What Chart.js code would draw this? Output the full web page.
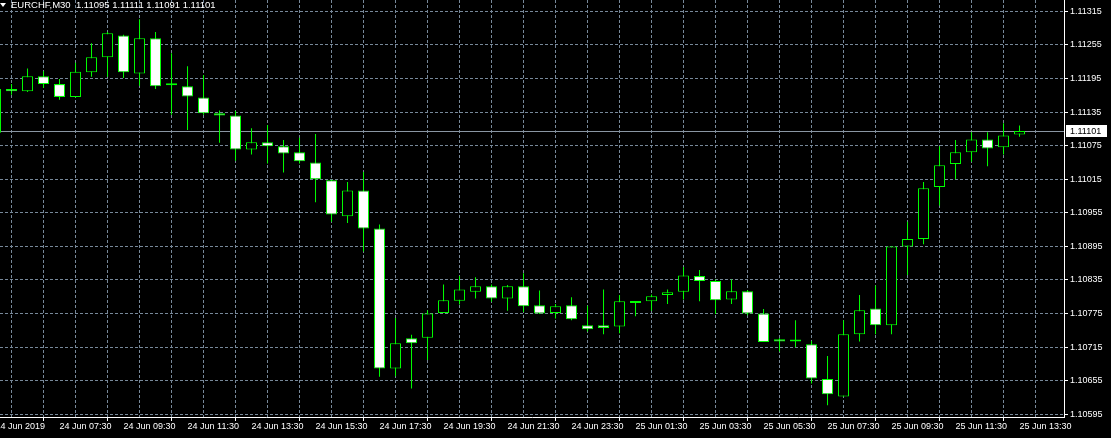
<!DOCTYPE html>
<html><head><meta charset="utf-8">
<script src="https://cdn.jsdelivr.net/npm/chart.js@4.4.1/dist/chart.umd.min.js"></script>
<style>
html,body{margin:0;padding:0;background:#000;overflow:hidden}
#wrap{position:relative;width:1111px;height:438px}
#c{position:absolute;left:0;top:0}
#hdr{position:absolute;left:11px;top:0px;font:9.5px 'Liberation Sans',Arial,sans-serif;color:#fff;line-height:10px;white-space:pre}
#tri{position:absolute;left:0;top:3px;width:0;height:0;border-left:3px solid transparent;border-right:3px solid transparent;border-top:4px solid #fff}
</style></head><body>
<div id="wrap"><canvas id="c" width="1111" height="438"></canvas><div id="tri"></div><div id="hdr"></div></div>
<script>
const symbol = 'EURCHF,M30';
const firstIndex = -1;
const opens  = [1.11098,1.11176,1.11172,1.11199,1.11185,1.11162,1.11206,1.11233,1.11272,1.11204,1.11267,1.11183,1.11181,1.11161,1.11133,1.11129,1.11068,1.11081,1.11074,1.11063,1.11045,1.11013,1.10949,1.10995,1.10927,1.10677,1.10731,1.10732,1.10776,1.10798,1.10814,1.10824,1.10802,1.10824,1.10790,1.10776,1.10790,1.10754,1.10754,1.10752,1.10794,1.10797,1.10808,1.10814,1.10842,1.10833,1.10800,1.10815,1.10775,1.10729,1.10725,1.10720,1.10658,1.10627,1.10738,1.10784,1.10754,1.10895,1.10908,1.11001,1.11042,1.11063,1.11086,1.11072,1.11095];
const highs  = [1.11182,1.11185,1.11213,1.11208,1.11194,1.11223,1.11258,1.11278,1.11273,1.11301,1.11278,1.11240,1.11217,1.11201,1.11138,1.11137,1.11106,1.11112,1.11085,1.11089,1.11096,1.11014,1.11010,1.11028,1.10934,1.10767,1.10737,1.10781,1.10827,1.10842,1.10840,1.10827,1.10826,1.10847,1.10816,1.10792,1.10804,1.10789,1.10818,1.10808,1.10796,1.10809,1.10818,1.10858,1.10853,1.10836,1.10836,1.10817,1.10783,1.10731,1.10763,1.10726,1.10699,1.10763,1.10808,1.10825,1.10895,1.10939,1.11010,1.11074,1.11085,1.11099,1.11099,1.11115,1.11111];
const lows   = [1.11094,1.11166,1.11171,1.11178,1.11157,1.11161,1.11198,1.11198,1.11196,1.11182,1.11176,1.11130,1.11103,1.11130,1.11080,1.11048,1.11059,1.11043,1.11027,1.11043,1.10974,1.10939,1.10937,1.10886,1.10662,1.10663,1.10641,1.10692,1.10776,1.10791,1.10802,1.10796,1.10780,1.10778,1.10774,1.10766,1.10763,1.10743,1.10738,1.10740,1.10770,1.10780,1.10792,1.10800,1.10797,1.10774,1.10792,1.10772,1.10724,1.10707,1.10715,1.10650,1.10611,1.10627,1.10725,1.10738,1.10738,1.10844,1.10899,1.10968,1.11015,1.11046,1.11038,1.11059,1.11091];
const closes = [1.11176,1.11172,1.11199,1.11185,1.11162,1.11207,1.11233,1.11276,1.11206,1.11267,1.11181,1.11183,1.11163,1.11133,1.11129,1.11068,1.11081,1.11074,1.11061,1.11047,1.11015,1.10952,1.10995,1.10927,1.10677,1.10722,1.10722,1.10775,1.10799,1.10818,1.10824,1.10802,1.10824,1.10788,1.10775,1.10788,1.10765,1.10747,1.10749,1.10797,1.10794,1.10806,1.10813,1.10843,1.10833,1.10799,1.10815,1.10775,1.10724,1.10725,1.10725,1.10659,1.10631,1.10738,1.10781,1.10754,1.10895,1.10908,1.10999,1.11040,1.11063,1.11086,1.11070,1.11093,1.11101];
const timeLabels = ['24 Jun 2019','24 Jun 07:30','24 Jun 09:30','24 Jun 11:30','24 Jun 13:30','24 Jun 15:30','24 Jun 17:30','24 Jun 19:30','24 Jun 21:30','24 Jun 23:30','25 Jun 01:30','25 Jun 03:30','25 Jun 05:30','25 Jun 07:30','25 Jun 09:30','25 Jun 11:30','25 Jun 13:30'];
const priceLabels = ['1.11315','1.11255','1.11195','1.11135','1.11075','1.11015','1.10955','1.10895','1.10835','1.10775','1.10715','1.10655','1.10595'];
const priceTicks = priceLabels.map(Number);

const FONT = {family: "'Liberation Sans', Arial, sans-serif", size: 9};
const GREEN = '#00ff00';
const GRID = '#778899';
const last = closes.length - 1;

document.getElementById('hdr').textContent =
  symbol + '  ' + [opens[last], highs[last], lows[last], closes[last]].map(v => v.toFixed(5)).join(' ');

const bodies = opens.map((o, i) => ({x: i + firstIndex, y: [o, closes[i]]}));
const wicks = lows.map((l, i) => ({x: i + firstIndex, y: [l, highs[i]]}));

const gridIdx = [];
for (let v = firstIndex; v <= firstIndex + 66; v += 2) gridIdx.push(v);

function noPad(ax) { ax.paddingLeft = 0; ax.paddingRight = 0; ax.paddingTop = 0; ax.paddingBottom = 0; }

const bidPlugin = {
  id: 'bid',
  beforeDatasetsDraw(chart) {
    const {ctx, chartArea: a, scales: {y}} = chart;
    const py = Math.floor(y.getPixelForValue(closes[last])) + 0.5;
    ctx.save();
    ctx.strokeStyle = '#8a96a3';
    ctx.lineWidth = 1;
    ctx.beginPath(); ctx.moveTo(a.left, py); ctx.lineTo(a.right, py); ctx.stroke();
    ctx.restore();
  },
  afterDraw(chart) {
    const {ctx, chartArea: a, scales: {y}} = chart;
    const py = Math.floor(y.getPixelForValue(closes[last]));
    ctx.save();
    ctx.fillStyle = '#fff';
    ctx.fillRect(a.right + 2, py - 6, 41, 12);
    ctx.fillStyle = '#000';
    ctx.font = "9px 'Liberation Sans', Arial, sans-serif";
    ctx.textBaseline = 'middle';
    ctx.textAlign = 'left';
    ctx.fillText(closes[last].toFixed(5), a.right + 6, py + 0.5);
    ctx.restore();
  }
};

new Chart(document.getElementById('c'), {
  type: 'bar',
  data: {
    datasets: [
      {
        data: bodies, order: 0, grouped: false, barThickness: 11, borderWidth: 1, borderSkipped: false,
        borderColor: GREEN, inflateAmount: 0, minBarLength: 2,
        backgroundColor: c => (c.dataIndex === undefined || closes[c.dataIndex] >= opens[c.dataIndex]) ? '#000' : '#fff'
      },
      {
        data: wicks, order: 1, grouped: false, barThickness: 1, borderWidth: 0, inflateAmount: 0,
        backgroundColor: GREEN
      }
    ]
  },
  options: {
    responsive: false, animation: false, devicePixelRatio: 1,
    layout: {padding: 0, autoPadding: false},
    plugins: {legend: {display: false}, tooltip: {enabled: false}},
    scales: {
      x: {
        type: 'linear', position: 'bottom', min: -0.72, max: 65.78, offset: false,
        afterBuildTicks: ax => { ax.ticks = gridIdx.map(v => ({value: v})); },
        afterFit: ax => { ax.height = 21; noPad(ax); },
        ticks: {
          autoSkip: false, maxRotation: 0, minRotation: 0, align: 'start', padding: 0, color: '#fff', font: FONT,
          callback: v => { const k = (v - firstIndex) / 4; return (Number.isInteger(k) && k < timeLabels.length) ? timeLabels[k] : ''; }
        },
        grid: {
          color: GRID, lineWidth: 1, tickLength: 4, tickBorderDash: [], tickWidth: 1,
          tickColor: c => (c.tick && (c.tick.value - firstIndex) % 4 === 0) ? '#fff' : 'rgba(0,0,0,0)'
        },
        border: {display: true, color: '#fff', width: 1, dash: [3, 2]}
      },
      y: {
        type: 'linear', position: 'right', min: 1.105902, max: 1.113352,
        afterBuildTicks: ax => { ax.ticks = priceTicks.map(v => ({value: v})); },
        afterFit: ax => { ax.width = 47; noPad(ax); },
        ticks: {color: '#fff', padding: 2, font: FONT, callback: (v, i) => priceLabels[i]},
        grid: {color: GRID, lineWidth: 1, tickLength: 4, tickColor: '#fff', tickBorderDash: [], tickWidth: 1},
        border: {display: true, color: '#fff', width: 1, dash: [3, 2]}
      }
    }
  },
  plugins: [bidPlugin]
});
</script>
</body></html>
